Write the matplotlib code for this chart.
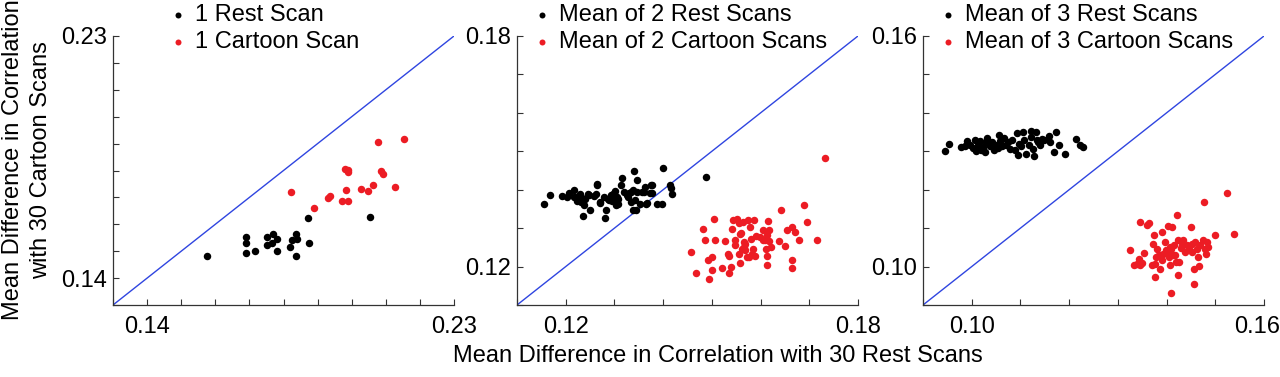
import matplotlib
matplotlib.use("Agg")
import matplotlib.pyplot as plt
from matplotlib.transforms import ScaledTranslation

plt.rcParams['font.family'] = ['Liberation Sans', 'DejaVu Sans']

RED = '#ec1c24'
BLUE = '#2f45e0'

# panel 1: single scan
rest1_x = [0.1576, 0.1689, 0.1691, 0.1689, 0.1715, 0.1752, 0.1751, 0.1769, 0.1765, 0.1781,
           0.1782, 0.1818, 0.1825, 0.1836, 0.1839, 0.1838, 0.1872, 0.1876, 0.2054]
rest1_y = [0.1483, 0.1552, 0.1530, 0.1492, 0.1500, 0.1552, 0.1522, 0.1563, 0.1532, 0.1544,
           0.1501, 0.1517, 0.1542, 0.1564, 0.1547, 0.1481, 0.1622, 0.1529, 0.1626]
cart1_x = [0.1822, 0.1890, 0.1931, 0.1936, 0.1973, 0.1989, 0.1983, 0.1980, 0.1988, 0.1990,
           0.2027, 0.2048, 0.2063, 0.2086, 0.2091, 0.2126, 0.2078, 0.2154]
cart1_y = [0.1719, 0.1659, 0.1698, 0.1704, 0.1687, 0.1688, 0.1728, 0.1806, 0.1802, 0.1793,
           0.1732, 0.1723, 0.1745, 0.1797, 0.1788, 0.1740, 0.1906, 0.1918]

# panel 2: mean of 2 scans
rest2_x = [0.1155, 0.1168, 0.1192, 0.1203, 0.1206, 0.1218, 0.1223, 0.1230, 0.1232, 0.1235,
           0.1240, 0.1245, 0.1249, 0.1259, 0.1264, 0.1265, 0.1270, 0.1278, 0.1280, 0.1283,
           0.1288, 0.1297, 0.1302, 0.1304, 0.1305, 0.1308, 0.1313, 0.1315, 0.1319, 0.1327,
           0.1329, 0.1338, 0.1341, 0.1343, 0.1345, 0.1347, 0.1353, 0.1356, 0.1363, 0.1367,
           0.1372, 0.1377, 0.1387, 0.1397, 0.1399, 0.1414, 0.1418, 0.1488,
           0.1224, 0.1238, 0.1248, 0.1262, 0.1271, 0.1293, 0.1295, 0.1326, 0.1334, 0.1335,
           0.1339, 0.1346, 0.1360, 0.1365, 0.1375, 0.1378, 0.1417, 0.1217, 0.1233, 0.1287,
           0.1299, 0.1308]
rest2_y = [0.1364, 0.1385, 0.1383, 0.1381, 0.1391, 0.1400, 0.1381, 0.1390, 0.1368, 0.1331,
           0.1377, 0.1390, 0.1346, 0.1383, 0.1415, 0.1411, 0.1365, 0.1381, 0.1326, 0.1348,
           0.1372, 0.1390, 0.1396, 0.1359, 0.1381, 0.1364, 0.1411, 0.1430, 0.1394, 0.1381,
           0.1391, 0.1398, 0.1448, 0.1372, 0.1348, 0.1426, 0.1364, 0.1394, 0.1407, 0.1365,
           0.1391, 0.1411, 0.1362, 0.1362, 0.1457, 0.1411, 0.1390, 0.1433,
           0.1370, 0.1359, 0.1385, 0.1388, 0.1368, 0.1385, 0.1370, 0.1385, 0.1393, 0.1369,
           0.1346, 0.1394, 0.1394, 0.1362, 0.1411, 0.1391, 0.1405, 0.1381, 0.1379, 0.1375,
           0.1390, 0.1377]
cart2_x = [0.1457, 0.1468, 0.1481, 0.1485, 0.1493, 0.1495, 0.1500, 0.1505, 0.1507, 0.1520,
           0.1527, 0.1536, 0.1536, 0.1541, 0.1544, 0.1548, 0.1552, 0.1555, 0.1557, 0.1559,
           0.1563, 0.1565, 0.1568, 0.1572, 0.1575, 0.1578, 0.1580, 0.1582, 0.1587, 0.1591,
           0.1598, 0.1606, 0.1609, 0.1611, 0.1613, 0.1613, 0.1616, 0.1618, 0.1637, 0.1641,
           0.1650, 0.1655, 0.1664, 0.1664, 0.1664, 0.1671, 0.1678, 0.1689, 0.1696, 0.1715,
           0.1732, 0.1533, 0.1547, 0.1558, 0.1561, 0.1565, 0.1569, 0.1576, 0.1584, 0.1589,
           0.1604, 0.1614, 0.1617, 0.1621, 0.1540, 0.1501, 0.1556]
cart2_y = [0.1237, 0.1182, 0.1299, 0.1269, 0.1217, 0.1167, 0.1191, 0.1325, 0.1270, 0.1195,
           0.1266, 0.1227, 0.1182, 0.1299, 0.1320, 0.1256, 0.1325, 0.1234, 0.1210, 0.1288,
           0.1316, 0.1264, 0.1243, 0.1225, 0.1320, 0.1303, 0.1273, 0.1234, 0.1320, 0.1279,
           0.1277, 0.1294, 0.1269, 0.1247, 0.1227, 0.1204, 0.1319, 0.1294, 0.1267, 0.1348,
           0.1253, 0.1296, 0.1303, 0.1217, 0.1195, 0.1290, 0.1270, 0.1359, 0.1316, 0.1270,
           0.1483, 0.1234, 0.1269, 0.1286, 0.1247, 0.1251, 0.1260, 0.1225, 0.1247, 0.1227,
           0.1269, 0.1282, 0.1267, 0.1251, 0.1199, 0.1225, 0.1313]

# panel 3: mean of 3 scans
rest3_x = [0.0945, 0.0954, 0.0979, 0.0986, 0.0990, 0.0997, 0.1002, 0.1007, 0.1009, 0.1012,
           0.1016, 0.1019, 0.1024, 0.1028, 0.1030, 0.1032, 0.1037, 0.1041, 0.1045, 0.1048,
           0.1053, 0.1057, 0.1059, 0.1062, 0.1067, 0.1071, 0.1074, 0.1079, 0.1083, 0.1088,
           0.1092, 0.1094, 0.1097, 0.1101, 0.1106, 0.1108, 0.1112, 0.1117, 0.1121, 0.1122,
           0.1126, 0.1128, 0.1131, 0.1133, 0.1136, 0.1140, 0.1145, 0.1148, 0.1159, 0.1161,
           0.1169, 0.1174, 0.1179, 0.1191, 0.1214, 0.1223, 0.1228]
rest3_y = [0.1300, 0.1320, 0.1311, 0.1314, 0.1326, 0.1317, 0.1309, 0.1329, 0.1300, 0.1317,
           0.1326, 0.1303, 0.1311, 0.1298, 0.1324, 0.1335, 0.1314, 0.1324, 0.1303, 0.1317,
           0.1309, 0.1342, 0.1326, 0.1314, 0.1335, 0.1316, 0.1324, 0.1307, 0.1329, 0.1303,
           0.1348, 0.1290, 0.1320, 0.1314, 0.1350, 0.1329, 0.1294, 0.1317, 0.1352, 0.1337,
           0.1307, 0.1287, 0.1350, 0.1329, 0.1324, 0.1316, 0.1333, 0.1329, 0.1340, 0.1324,
           0.1298, 0.1349, 0.1317, 0.1292, 0.1333, 0.1317, 0.1311]
cart3_x = [0.1325, 0.1345, 0.1354, 0.1359, 0.1363, 0.1370, 0.1372, 0.1374, 0.1376, 0.1377,
           0.1381, 0.1384, 0.1386, 0.1390, 0.1391, 0.1393, 0.1397, 0.1400, 0.1403, 0.1405,
           0.1408, 0.1409, 0.1410, 0.1412, 0.1414, 0.1416, 0.1419, 0.1421, 0.1423, 0.1424,
           0.1426, 0.1430, 0.1434, 0.1438, 0.1441, 0.1446, 0.1450, 0.1452, 0.1453, 0.1456,
           0.1457, 0.1459, 0.1462, 0.1464, 0.1466, 0.1469, 0.1474, 0.1476, 0.1478, 0.1481,
           0.1483, 0.1499, 0.1524, 0.1538, 0.1334, 0.1340, 0.1345, 0.1350, 0.1343, 0.1379,
           0.1398, 0.1407, 0.1417, 0.1431, 0.1486]
cart3_y = [0.1042, 0.1117, 0.1036, 0.1109, 0.1114, 0.1003, 0.1059, 0.1083, 0.1007, 0.0972,
           0.1046, 0.1029, 0.0994, 0.1091, 0.1016, 0.1033, 0.1063, 0.1037, 0.1105, 0.1024,
           0.1004, 0.0931, 0.1046, 0.1103, 0.1029, 0.1055, 0.1011, 0.1133, 0.1068, 0.0977,
           0.1011, 0.1048, 0.1068, 0.1037, 0.1055, 0.1048, 0.1103, 0.1059, 0.1037, 0.0955,
           0.0994, 0.1065, 0.1046, 0.1024, 0.1001, 0.1055, 0.1068, 0.1168, 0.1046, 0.1033,
           0.1063, 0.1083, 0.1191, 0.1084, 0.1004, 0.1007, 0.1003, 0.1010, 0.1020, 0.1024,
           0.1042, 0.1050, 0.1029, 0.1055, 0.1050]

limits = [(0.13, 0.23), (0.11, 0.18), (0.09, 0.16)]
ticks = [[0.13, 0.14, 0.15, 0.16, 0.17, 0.18, 0.19, 0.20, 0.21, 0.22, 0.23],
         [0.11, 0.12, 0.13, 0.14, 0.15, 0.16, 0.17, 0.18],
         [0.09, 0.10, 0.11, 0.12, 0.13, 0.14, 0.15, 0.16]]
labeled = [(0.14, 0.23), (0.12, 0.18), (0.10, 0.16)]
rest_labels = ['1 Rest Scan', 'Mean of 2 Rest Scans', 'Mean of 3 Rest Scans']
cart_labels = ['1 Cartoon Scan', 'Mean of 2 Cartoon Scans', 'Mean of 3 Cartoon Scans']

series = [(rest1_x, rest1_y, cart1_x, cart1_y),
          (rest2_x, rest2_y, cart2_x, cart2_y),
          (rest3_x, rest3_y, cart3_x, cart3_y)]

FS = 17
fig = plt.figure(figsize=(12.8, 3.77), dpi=100)
lefts = [113, 517, 923]
legend_x = [169, 533, 939]
W, H = 1280, 377

for i in range(3):
    ax = fig.add_axes([lefts[i] / W, (H - 305) / H, 341 / W, 269 / H])
    rx, ry, cx, cy = series[i]
    lo, hi = limits[i]
    ax.plot([lo, hi], [lo, hi], color=BLUE, lw=1.0, zorder=1)
    hr = ax.scatter(rx, ry, s=29, color='black', linewidths=0, zorder=3, label=rest_labels[i])
    hc = ax.scatter(cx, cy, s=29, color=RED, linewidths=0, zorder=2, label=cart_labels[i])
    ax.set_xlim(lo, hi)
    ax.set_ylim(lo, hi)
    tl = ['%.2f' % t if any(abs(t - l) < 1e-9 for l in labeled[i]) else '' for t in ticks[i]]
    ax.set_xticks(ticks[i])
    ax.set_xticklabels(tl)
    ax.set_yticks(ticks[i])
    ax.set_yticklabels(tl)
    ax.tick_params(direction='in', length=4, width=0.8, color='#333333', labelsize=FS)
    ax.tick_params(axis='x', pad=8)
    ax.tick_params(axis='y', pad=4)
    for side in ['top', 'right']:
        ax.spines[side].set_visible(False)
    for side in ['left', 'bottom']:
        ax.spines[side].set_color('#333333')
        ax.spines[side].set_linewidth(0.9)
    if i == 2:
        last = ax.get_xticklabels()[-1]
        last.set_transform(last.get_transform() + ScaledTranslation(-7 / 100, 0, fig.dpi_scale_trans))
    ax.legend(handles=[hr, hc], loc='upper left',
              bbox_to_anchor=(legend_x[i] / W, 1 - 4 / H), bbox_transform=fig.transFigure,
              frameon=False, fontsize=FS, handlelength=0.75, handletextpad=0.35,
              labelspacing=0.22, borderpad=0, borderaxespad=0, scatterpoints=1,
              markerscale=0.8)

fig.text(718 / W, 1 - 356 / H, 'Mean Difference in Correlation with 30 Rest Scans',
         ha='center', va='center', fontsize=FS)
fig.text(27 / W, 1 - 160 / H, 'Mean Difference in Correlation\nwith 30 Cartoon Scans',
         ha='center', va='center', rotation=90, fontsize=FS, linespacing=1.3,
         multialignment='center')

fig.savefig('out.png', dpi=100)
